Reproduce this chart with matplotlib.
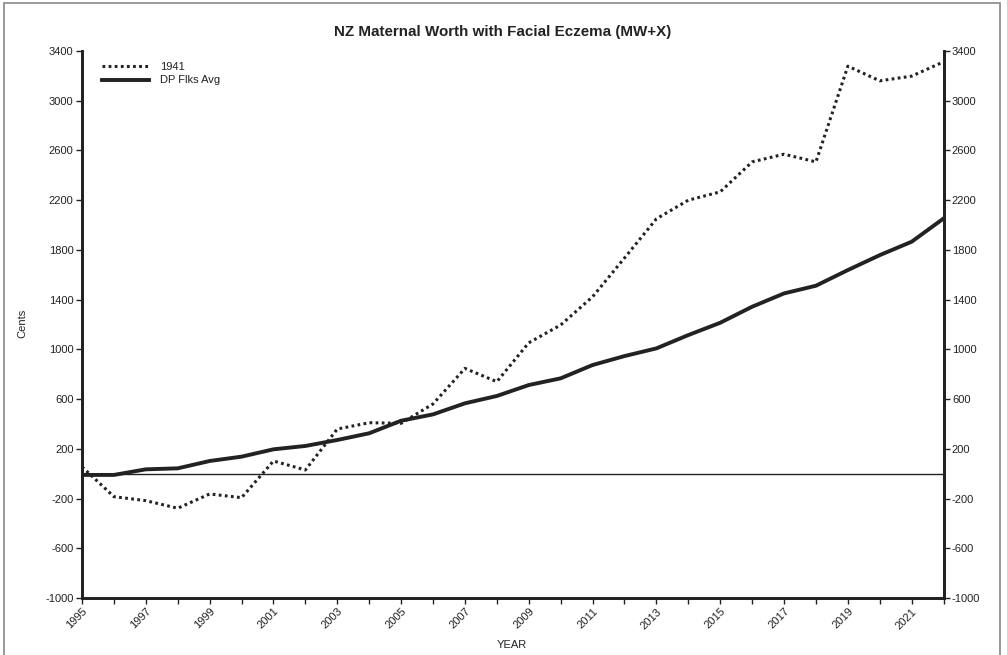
import matplotlib
matplotlib.use("Agg")
import matplotlib.pyplot as plt
from matplotlib.patches import Rectangle

plt.rcParams['font.family'] = ['Liberation Sans', 'DejaVu Sans']
plt.rcParams['axes.unicode_minus'] = False

years = list(range(1995, 2023))
series_1941 = [55, -185, -217, -278, -163, -193, 102, 30, 359, 410, 405, 561,
               847, 740, 1053, 1196, 1423, 1735, 2050, 2200, 2267, 2508, 2570,
               2508, 3278, 3160, 3198, 3313]
dp_flks_avg = [-10, -10, 35, 43, 102, 137, 196, 223, 271, 325, 426, 477,
               566, 625, 713, 767, 874, 946, 1008, 1115, 1214, 1343, 1450,
               1512, 1638, 1758, 1866, 2053]
yticks = list(range(-1000, 3401, 400))
xtick_labels = list(range(1995, 2022, 2))

title = "NZ Maternal Worth with Facial Eczema (MW+X)"
col = "#222222"

fig = plt.figure(figsize=(10.07, 6.55), dpi=100)
fig.patches.append(Rectangle((4/1007, -0.01), 996/1007, 1 - 3/655 + 0.01,
                             transform=fig.transFigure, fill=False,
                             edgecolor="#888888", linewidth=1.2))
ax = fig.add_axes([82/1007, 1 - 598/655, (943.6 - 82)/1007, (598 - 51)/655])

ax.plot(years, series_1941, color=col, linewidth=2.2, linestyle=(0, (0.9, 1.1)),
        label="1941")
ax.plot(years, dp_flks_avg, color=col, linewidth=2.8, label="DP Flks Avg")
ax.axhline(0, color=col, linewidth=1.0)

ax.set_xlim(1995, 2022)
ax.set_ylim(-1000, 3400)
ax.set_yticks(yticks)
ax.set_xticks(years, minor=True)
ax.set_xticks(xtick_labels)
ax.set_xticklabels([str(y) for y in xtick_labels], rotation=45, ha='right',
                   rotation_mode='anchor', fontsize=8, color=col)
ax.tick_params(axis='x', which='both', length=4, width=1, color=col, pad=2)
ax.tick_params(axis='y', labelsize=8, length=4, width=1, color=col, labelcolor=col, pad=2)

ax2 = ax.twinx()
ax2.set_ylim(-1000, 3400)
ax2.set_yticks(yticks)
ax2.tick_params(axis='y', labelsize=8, length=4, width=1, color=col, labelcolor=col, pad=2)

for a in (ax, ax2):
    a.spines['top'].set_visible(False)
    for s in ('left', 'right', 'bottom'):
        a.spines[s].set_linewidth(2)
        a.spines[s].set_color(col)

fig.text(22/1007, 1 - 323/655, "Cents", rotation=90, ha='center', va='center',
         fontsize=8, color=col)
fig.text(512/1007, 1 - 645/655, "YEAR", ha='center', va='center', fontsize=8, color=col)
fig.text(503/1007, 1 - 32/655, title, ha='center', va='center', fontsize=10.9,
         fontweight='bold', color=col)

leg = ax.legend(loc='upper left', bbox_to_anchor=(0.014, 0.994), frameon=False,
                fontsize=8, handlelength=4.2, handletextpad=1.0,
                labelspacing=0.3, borderaxespad=0.3)
for t in leg.get_texts():
    t.set_color(col)

fig.savefig("out.png", dpi=100)
